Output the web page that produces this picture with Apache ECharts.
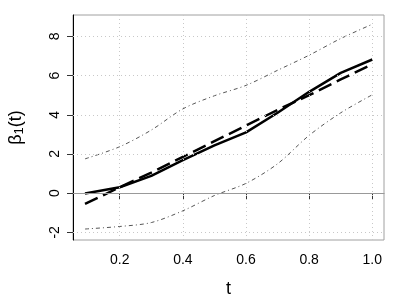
<!DOCTYPE html>
<html>
<head>
<meta charset="utf-8">
<script src="https://cdn.jsdelivr.net/npm/echarts@6/dist/echarts.min.js"></script>
<style>html,body{margin:0;padding:0;background:#fff}#c{width:400px;height:300px}</style>
</head>
<body>
<div id="c"></div>
<script>
// Data
var tValues = [0.09, 0.2, 0.3, 0.4, 0.5, 0.6, 0.7, 0.8, 0.9, 1.0];
var estimate = [-0.02, 0.3, 0.88, 1.69, 2.44, 3.1, 4.1, 5.17, 6.14, 6.82];
var trueCurve = [-0.55, 0.3, 1.05, 1.85, 2.65, 3.45, 4.25, 5.0, 5.8, 6.58];
var upperBand = [1.75, 2.37, 3.22, 4.3, 4.97, 5.5, 6.27, 7.04, 7.89, 8.62];
var lowerBand = [-1.83, -1.7, -1.5, -0.9, -0.12, 0.5, 1.5, 2.95, 4.1, 5.02];
var xTicks = [0.2, 0.4, 0.6, 0.8, 1.0];
var yTicks = [-2, 0, 2, 4, 6, 8];

function pairs(arr) { return tValues.map(function (t, i) { return [t, arr[i]]; }); }

var FONT = 'Liberation Sans, Arial, Helvetica, sans-serif';
var chart = echarts.init(document.getElementById('c'), null, {renderer: 'canvas'});

var gridLinesX = xTicks.map(function (v) { return {xAxis: v}; });
var gridLinesY = yTicks.map(function (v) { return {yAxis: v}; });

chart.setOption({
  animation: false,
  grid: {left: 73, right: 16, top: 15, bottom: 60, containLabel: false, outerBoundsMode: 'none',
    show: true, borderColor: '#a0a0a0', borderWidth: 1},
  xAxis: {
    type: 'value', min: 0.052, max: 1.037,
    name: 't', nameLocation: 'middle', nameGap: 40,
    nameTextStyle: {fontFamily: FONT, fontSize: 18, color: '#000'},
    axisLine: {show: true, lineStyle: {color: '#888', width: 1}},
    axisTick: {show: true, length: 6, customValues: xTicks, lineStyle: {color: '#333'}},
    axisLabel: {customValues: xTicks, fontFamily: FONT, fontSize: 14, color: '#000', margin: 13,
      formatter: function (v) { return v.toFixed(1); }},
    splitLine: {show: false}
  },
  yAxis: {
    type: 'value', min: -2.39, max: 9.09,
    name: '{a|β}{s|1}{a|(t)}', nameLocation: 'middle', nameGap: 47, nameRotate: 90,
    nameTextStyle: {fontFamily: FONT, fontSize: 18, color: '#000',
      rich: {a: {fontFamily: FONT, fontSize: 18, color: '#000'},
             s: {fontFamily: FONT, fontSize: 13, color: '#000', verticalAlign: 'bottom', padding: [7, 0, 0, 0]}}},
    axisLine: {show: true, lineStyle: {color: '#000', width: 1}},
    axisTick: {show: true, length: 6, customValues: yTicks, lineStyle: {color: '#333'}},
    axisLabel: {customValues: yTicks, fontFamily: FONT, fontSize: 14, color: '#000', margin: 11, rotate: 90},
    splitLine: {show: false}
  },
  series: [
    {
      type: 'line', data: [], silent: true,
      markLine: {silent: true, symbol: 'none', label: {show: false},
        lineStyle: {color: '#c8c8c8', type: [1, 3], width: 1},
        data: gridLinesX.concat(gridLinesY)}
    },
    {
      type: 'line', data: [], silent: true,
      markLine: {silent: true, symbol: 'none', label: {show: false},
        lineStyle: {color: '#999', type: 'solid', width: 1},
        data: [{yAxis: 0}]}
    },
    {type: 'line', data: pairs(upperBand), showSymbol: false, smooth: 0.3,
      lineStyle: {color: '#555', width: 1, type: [4, 3, 1, 3]}},
    {type: 'line', data: pairs(lowerBand), showSymbol: false, smooth: 0.3,
      lineStyle: {color: '#555', width: 1, type: [4, 3, 1, 3]}},
    {type: 'line', data: pairs(trueCurve), showSymbol: false,
      lineStyle: {color: '#000', width: 2.5, type: [14, 6]}},
    {type: 'line', data: pairs(estimate), showSymbol: false,
      lineStyle: {color: '#000', width: 2.5, type: 'solid'}}
  ]
});
</script>
</body>
</html>
